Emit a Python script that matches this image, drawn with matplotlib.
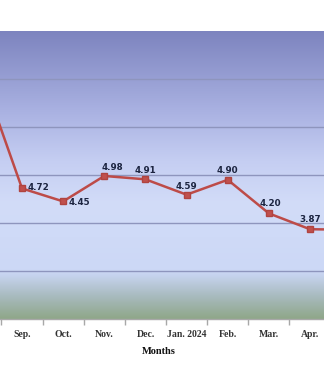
import numpy as np
import matplotlib
matplotlib.use("Agg")
import matplotlib.pyplot as plt
from matplotlib.colors import LinearSegmentedColormap

# monthly values (Aug. .. May), only Sep.-Apr. fall inside the window
months = ["Aug.", "Sep.", "Oct.", "Nov.", "Dec.", "Jan. 2024", "Feb.", "Mar.", "Apr.", "May"]
values = [7.15, 4.72, 4.45, 4.98, 4.91, 4.59, 4.90, 4.20, 3.87, 3.86]

# label offsets in points (dx, dy) and alignment for each point
label_offsets = [(0, 6), (4, 1), (4, -1), (6, 6), (0, 6), (0, 6), (0, 7), (1, 7), (0, 7), (0, 6)]
label_align = ["center", "left", "left", "center", "center", "center", "center", "center", "center", "center"]

XLO, XHI = 0.465, 8.34
YLO, YHI = 2, 8

fig = plt.figure(figsize=(3.24, 3.82), dpi=100)
ax = fig.add_axes([0, 63 / 382, 1, 288 / 382])

x = np.arange(len(months))
shown = [i for i in x if XLO <= i <= XHI]

# background gradient: blue at top, pale in the middle, green at the bottom
stops = [(0.0, "#8fa789"), (0.08, "#a9bbc0"), (0.15, "#c6d3ee"), (0.17, "#ccd8f6"),
         (0.40, "#d2dcf8"), (0.55, "#c5cef2"), (0.72, "#aab2e2"), (1.0, "#7d84bf")]
cmap = LinearSegmentedColormap.from_list("bg", stops)
grad = np.linspace(0, 1, 256).reshape(-1, 1)
ax.imshow(grad, cmap=cmap, aspect="auto", origin="lower",
          extent=[-1, len(months), YLO, YHI], zorder=0)

for gy in range(3, 8):
    ax.axhline(gy, color="#8e95bd", lw=1.0, zorder=1)

ax.plot(x, values, color="#bd4b48", lw=1.8, marker="s", markersize=5,
        markerfacecolor="#c0504d", markeredgecolor="#b04440", zorder=3)

for xi, v, (dx, dy), ha in zip(x, values, label_offsets, label_align):
    if xi in shown:
        ax.annotate(f"{v:.2f}", (xi, v), xytext=(dx, dy), textcoords="offset points",
                    ha=ha, va="center", fontsize=6.3, fontweight="bold",
                    color="#1c2440", family="DejaVu Sans", zorder=4)

for s in ["left", "right", "top"]:
    ax.spines[s].set_visible(False)
ax.spines["bottom"].set_color("#a8a8a8")
ax.spines["bottom"].set_linewidth(1.0)

ax.set_yticks([])
ax.set_xticks(np.arange(0, len(months) - 1) + 0.5)
ax.set_xticklabels([])
ax.set_xticks(shown, minor=True)
ax.set_xticklabels([months[i] for i in shown], minor=True, family="Liberation Serif",
                   fontweight="bold", fontsize=7, color="#333333")
ax.tick_params(axis="x", which="major", length=4, color="#a8a8a8", width=1)
ax.tick_params(axis="x", which="minor", length=0, pad=8)

ax.set_xlim(XLO, XHI)
ax.set_ylim(YLO, YHI)

fig.text(159 / 324, 1 - 352 / 382, "Months", ha="center", va="center",
         family="Liberation Serif", fontweight="bold", fontsize=7.5, color="#111111")

fig.savefig("out.png", dpi=100)
